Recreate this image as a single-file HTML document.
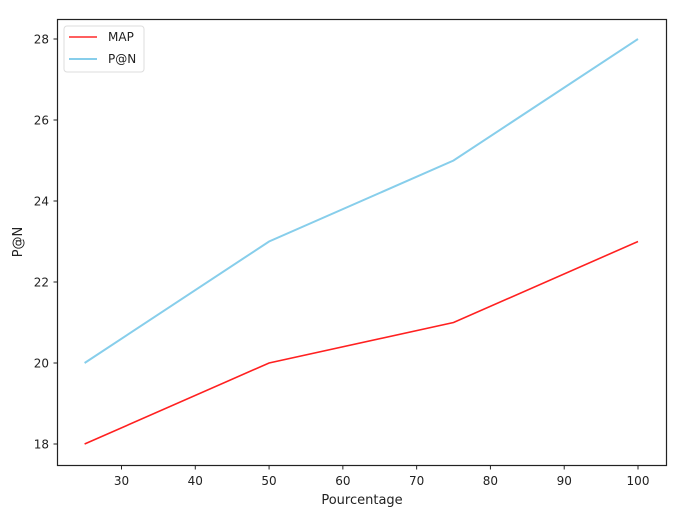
<!DOCTYPE html>
<html><head><meta charset="utf-8"><style>
body{margin:0;background:#fff;width:683px;height:514px;overflow:hidden}
text{font-family:"DejaVu Sans","Liberation Sans",sans-serif;fill:#222}
</style></head><body>
<svg id="chart" width="683" height="514">
<rect x="57.5" y="19.5" width="609" height="446" fill="none" stroke="#222" stroke-width="1.2"/>
<g id="axes"></g>
<g id="series"></g>
<text x="362" y="504" font-size="13" text-anchor="middle">Pourcentage</text>
<text x="22" y="242" font-size="13" text-anchor="middle" transform="rotate(-90 22 242)">P@N</text>
<g>
<rect x="64" y="26" width="80" height="46" rx="3" fill="#fff" stroke="#ddd"/>
<line x1="69" y1="37" x2="97" y2="37" stroke="#ff2a2a" stroke-width="1.5"/>
<text x="108" y="41" font-size="12">MAP</text>
<line x1="69" y1="59" x2="97" y2="59" stroke="#87ceeb" stroke-width="2"/>
<text x="108" y="63" font-size="12">P@N</text>
</g>
</svg>
<script>
const categories=[25,50,75,100];
const mapValues=[18,20,21,23];
const pnValues=[20,23,25,28];
const xTicks=[30,40,50,60,70,80,90,100];
const yTicks=[18,20,22,24,26,28];
const NS="http://www.w3.org/2000/svg";
function xs(v){return 121.5+(v-30)*(638-121.5)/70;}
function ys(v){return 444+(v-18)*(39-444)/10;}
const axes=document.getElementById('axes'),series=document.getElementById('series');
function mk(tag,attrs,parent){const e=document.createElementNS(NS,tag);for(const k in attrs)e.setAttribute(k,attrs[k]);parent.appendChild(e);return e;}
xTicks.forEach(t=>{
 const l=mk('line',{x1:xs(t),x2:xs(t),y1:465.5,y2:469.5,stroke:'#222'},axes);
 
 
 const tx=mk('text',{x:xs(t),y:485,'font-size':12,'text-anchor':'middle'},axes);tx.textContent=t;
 
 
});
yTicks.forEach(t=>{
 const l=mk('line',{x1:53.5,x2:57.5,y1:ys(t),y2:ys(t),stroke:'#222'},axes);
 
 
 const tx=mk('text',{x:49,y:ys(t)+4.5,'font-size':12,'text-anchor':'end'},axes);tx.textContent=t;
 
 
});
function line(vals,color,w,name){
 const p=mk('polyline',{points:categories.map((c,i)=>xs(c)+','+ys(vals[i])).join(' '),fill:'none',stroke:color,'stroke-width':w},series);
 
 
}
line(pnValues,'#87ceeb',2,'pn-line');
line(mapValues,'#ff2020',1.6,'map-line');
</script>
</body></html>
